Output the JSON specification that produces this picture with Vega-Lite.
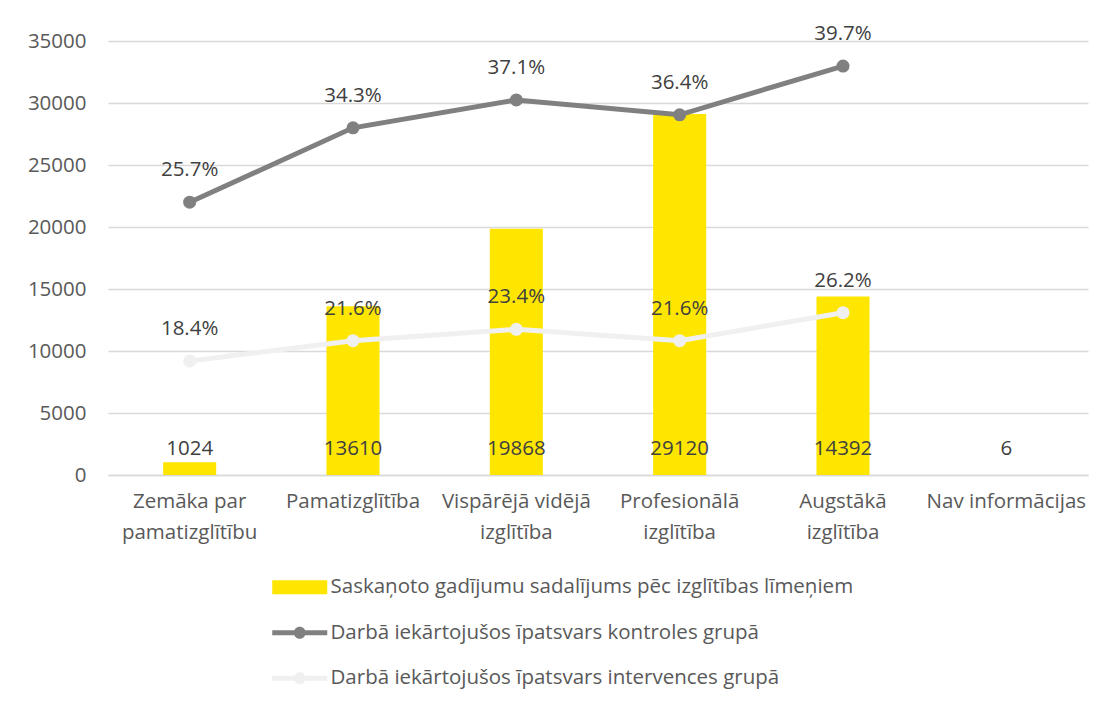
{
  "$schema": "https://vega.github.io/schema/vega-lite/v6.json",
  "width": 980,
  "height": 434,
  "autosize": "none",
  "padding": {"left": 108, "top": 41, "right": 18, "bottom": 233},
  "background": "white",
  "config": {
    "view": {"stroke": null},
    "font": "Open Sans",
    "axis": {"labelFont": "Open Sans", "labelFontSize": 20.5, "labelColor": "#595959", "ticks": false, "title": null}
  },
  "data": {
    "values": [
      {"cat": "Zemāka par pamatizglītību", "series": "Saskaņoto gadījumu sadalījums pēc izglītības līmeņiem", "value": 1024, "label": "1024"},
      {"cat": "Pamatizglītība", "series": "Saskaņoto gadījumu sadalījums pēc izglītības līmeņiem", "value": 13610, "label": "13610"},
      {"cat": "Vispārējā vidējā izglītība", "series": "Saskaņoto gadījumu sadalījums pēc izglītības līmeņiem", "value": 19868, "label": "19868"},
      {"cat": "Profesionālā izglītība", "series": "Saskaņoto gadījumu sadalījums pēc izglītības līmeņiem", "value": 29120, "label": "29120"},
      {"cat": "Augstākā izglītība", "series": "Saskaņoto gadījumu sadalījums pēc izglītības līmeņiem", "value": 14392, "label": "14392"},
      {"cat": "Nav informācijas", "series": "Saskaņoto gadījumu sadalījums pēc izglītības līmeņiem", "value": 6, "label": "6"},
      {"cat": "Zemāka par pamatizglītību", "series": "Darbā iekārtojušos īpatsvars kontroles grupā", "value": 22000, "label": "25.7%"},
      {"cat": "Pamatizglītība", "series": "Darbā iekārtojušos īpatsvars kontroles grupā", "value": 28000, "label": "34.3%"},
      {"cat": "Vispārējā vidējā izglītība", "series": "Darbā iekārtojušos īpatsvars kontroles grupā", "value": 30250, "label": "37.1%"},
      {"cat": "Profesionālā izglītība", "series": "Darbā iekārtojušos īpatsvars kontroles grupā", "value": 29050, "label": "36.4%"},
      {"cat": "Augstākā izglītība", "series": "Darbā iekārtojušos īpatsvars kontroles grupā", "value": 32980, "label": "39.7%"},
      {"cat": "Zemāka par pamatizglītību", "series": "Darbā iekārtojušos īpatsvars intervences grupā", "value": 9200, "label": "18.4%"},
      {"cat": "Pamatizglītība", "series": "Darbā iekārtojušos īpatsvars intervences grupā", "value": 10830, "label": "21.6%"},
      {"cat": "Vispārējā vidējā izglītība", "series": "Darbā iekārtojušos īpatsvars intervences grupā", "value": 11750, "label": "23.4%"},
      {"cat": "Profesionālā izglītība", "series": "Darbā iekārtojušos īpatsvars intervences grupā", "value": 10830, "label": "21.6%"},
      {"cat": "Augstākā izglītība", "series": "Darbā iekārtojušos īpatsvars intervences grupā", "value": 13090, "label": "26.2%"}
    ]
  },
  "encoding": {
    "x": {
      "field": "cat", "type": "nominal", "sort": null,
      "scale": {"paddingInner": 0.675, "paddingOuter": 0.3375},
      "axis": {
        "labelAngle": 0, "labelPadding": 16, "labelLineHeight": 31, "labelBaseline": "top",
        "domainColor": "#d9d9d9", "domainWidth": 1.3, "grid": false,
        "labelExpr": "datum.value == 'Zemāka par pamatizglītību' ? ['Zemāka par', 'pamatizglītību'] : datum.value == 'Vispārējā vidējā izglītība' ? ['Vispārējā vidējā', 'izglītība'] : datum.value == 'Profesionālā izglītība' ? ['Profesionālā', 'izglītība'] : datum.value == 'Augstākā izglītība' ? ['Augstākā', 'izglītība'] : datum.value"
      }
    },
    "y": {
      "field": "value", "type": "quantitative",
      "scale": {"domain": [0, 35000], "nice": false},
      "axis": {"values": [0, 5000, 10000, 15000, 20000, 25000, 30000, 35000], "domain": false, "gridColor": "#d9d9d9", "gridWidth": 1.3, "labelPadding": 22, "format": "d"}
    },
    "color": {
      "field": "series", "type": "nominal",
      "scale": {
        "domain": ["Saskaņoto gadījumu sadalījums pēc izglītības līmeņiem", "Darbā iekārtojušos īpatsvars kontroles grupā", "Darbā iekārtojušos īpatsvars intervences grupā"],
        "range": ["#FFE600", "#808080", "#F0F0F0"]
      },
      "legend": {
        "orient": "none", "legendX": 181.5, "legendY": 536, "direction": "vertical", "title": null,
        "padding": 0, "labelFont": "Open Sans", "labelFontSize": 20.5, "labelColor": "#595959", "labelLimit": 900,
        "symbolSize": 400, "rowPadding": 24.5, "labelOffset": 20.5, "symbolStrokeWidth": 0,
        "encode": {
          "symbols": {
            "update": {
              "shape": {"signal": "datum.value === 'Saskaņoto gadījumu sadalījums pēc izglītības līmeņiem' ? 'M-2.75,-0.7H2.75V0.7H-2.75Z' : 'M-2.75,-0.25H2.75V0.25H-2.75Z M-0.6,0A0.6,0.6 0 1,1 0.6,0A0.6,0.6 0 1,1 -0.6,0Z'"},
              "fill": {"signal": "scale('color', datum.value)"},
              "stroke": {"value": "transparent"},
              "opacity": {"value": 1},
              "fillOpacity": {"value": 1}
            }
          }
        }
      }
    }
  },
  "layer": [
    {
      "transform": [{"filter": "datum.series === 'Saskaņoto gadījumu sadalījums pēc izglītības līmeņiem'"}],
      "mark": {"type": "bar"}
    },
    {
      "transform": [{"filter": "datum.series !== 'Saskaņoto gadījumu sadalījums pēc izglītības līmeņiem'"}],
      "mark": {"type": "line", "strokeWidth": 5}
    },
    {
      "transform": [{"filter": "datum.series !== 'Saskaņoto gadījumu sadalījums pēc izglītības līmeņiem'"}],
      "mark": {"type": "point", "filled": true, "opacity": 1, "size": 170}
    },
    {
      "transform": [{"filter": "datum.series === 'Saskaņoto gadījumu sadalījums pēc izglītības līmeņiem'"}],
      "mark": {"type": "text", "fontSize": 20.5, "baseline": "middle", "dy": -26, "font": "Open Sans"},
      "encoding": {"y": {"datum": 0}, "text": {"field": "label"}, "color": {"value": "#404040"}}
    },
    {
      "transform": [{"filter": "datum.series !== 'Saskaņoto gadījumu sadalījums pēc izglītības līmeņiem'"}],
      "mark": {"type": "text", "fontSize": 20.5, "baseline": "middle", "dy": -32, "font": "Open Sans"},
      "encoding": {"text": {"field": "label"}, "color": {"value": "#404040"}}
    }
  ]
}
